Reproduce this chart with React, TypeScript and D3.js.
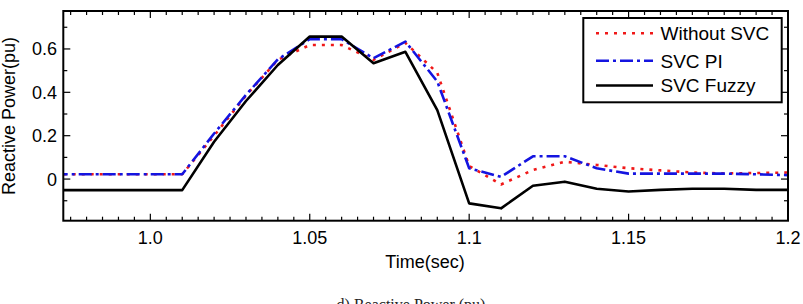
import React, {Component} from 'react';
import * as d3 from "d3"

// time axis (sec) and the three reactive power traces (pu)
const time = [0.97, 0.98, 0.99, 1.0, 1.01, 1.02, 1.03, 1.04, 1.05, 1.06, 1.07, 1.08, 1.09, 1.1, 1.11, 1.12, 1.13, 1.14, 1.15, 1.16, 1.17, 1.18, 1.19, 1.2]
const withoutSVC = [0.022, 0.022, 0.022, 0.022, 0.022, 0.2, 0.385, 0.55, 0.618, 0.618, 0.55, 0.628, 0.49, 0.06, -0.025, 0.042, 0.08, 0.065, 0.05, 0.04, 0.03, 0.026, 0.028, 0.03]
const svcPI = [0.022, 0.022, 0.022, 0.022, 0.022, 0.21, 0.388, 0.552, 0.645, 0.645, 0.557, 0.634, 0.45, 0.05, 0.01, 0.105, 0.105, 0.05, 0.025, 0.025, 0.025, 0.025, 0.022, 0.018]
const svcFuzzy = [-0.051, -0.051, -0.051, -0.051, -0.051, 0.172, 0.36, 0.526, 0.657, 0.657, 0.534, 0.587, 0.318, -0.112, -0.135, -0.031, -0.012, -0.045, -0.057, -0.05, -0.045, -0.045, -0.05, -0.05]

const xMajor = [1.0, 1.05, 1.1, 1.15, 1.2]
const xLabels = ["1.0", "1.05", "1.1", "1.15", "1.2"]
const yMajor = [0, 0.2, 0.4, 0.6]
const yLabels = ["0", "0.2", "0.4", "0.6"]
const yMinor = [-0.1, 0.1, 0.3, 0.5, 0.7]

const seriesNames = ["Without SVC", "SVC PI", "SVC Fuzzy"]

class App extends Component {
    renderChart(){
      const width = 803
      const height = 304
      const left = 63.3, right = 788, top = 11, bottom = 220.7
      const font = "'Liberation Sans', Arial, sans-serif"

      const x = d3.scaleLinear().domain([0.9727, 1.2]).range([left, right])
      const y = d3.scaleLinear().domain([-0.192, 0.775]).range([bottom, top])

      const svg = d3.select("#chart")
                      .append("svg")
                      .attr("width", width)
                      .attr("height", height)
                      .style("display", "block")

      svg.append("rect").attr("width", width).attr("height", height).attr("fill", "#fff")

      svg.append("clipPath").attr("id", "plotclip")
          .append("rect")
          .attr("x", left).attr("y", top)
          .attr("width", right - left).attr("height", bottom - top)

      const series = [
        {name: seriesNames[0], values: withoutSVC, color: "#f01818", dash: "3,6"},
        {name: seriesNames[1], values: svcPI, color: "#1414e0", dash: "13,4,3,4"},
        {name: seriesNames[2], values: svcFuzzy, color: "#000", dash: null},
      ]

      const line = d3.line<number>()
          .x((d, i) => x(time[i]))
          .y(d => y(d))

      const g = svg.append("g").attr("clip-path", "url(#plotclip)")
      series.forEach(s => {
        g.append("path")
          .attr("d", line(s.values))
          .attr("fill", "none")
          .attr("stroke", s.color)
          .attr("stroke-width", 2.6)
          .attr("stroke-linejoin", "round")
          .attr("stroke-dasharray", s.dash)
      })

      // ticks (inward, on all four sides)
      const xMinor = d3.range(0.975, 1.2, 0.005).filter(v => !xMajor.some(m => Math.abs(m - v) < 1e-6))
      const ticks = svg.append("g").attr("stroke", "#000").attr("stroke-width", 1.2)
      xMajor.forEach(v => {
        ticks.append("line").attr("x1", x(v)).attr("x2", x(v)).attr("y1", bottom).attr("y2", bottom - 7)
        ticks.append("line").attr("x1", x(v)).attr("x2", x(v)).attr("y1", top).attr("y2", top + 7)
      })
      xMinor.forEach(v => {
        ticks.append("line").attr("x1", x(v)).attr("x2", x(v)).attr("y1", bottom).attr("y2", bottom - 4)
        ticks.append("line").attr("x1", x(v)).attr("x2", x(v)).attr("y1", top).attr("y2", top + 4)
      })
      yMajor.forEach(v => {
        ticks.append("line").attr("x1", left).attr("x2", left + 7).attr("y1", y(v)).attr("y2", y(v))
        ticks.append("line").attr("x1", right).attr("x2", right - 7).attr("y1", y(v)).attr("y2", y(v))
      })
      yMinor.forEach(v => {
        ticks.append("line").attr("x1", left).attr("x2", left + 4).attr("y1", y(v)).attr("y2", y(v))
        ticks.append("line").attr("x1", right).attr("x2", right - 4).attr("y1", y(v)).attr("y2", y(v))
      })

      svg.append("rect")
          .attr("x", left).attr("y", top)
          .attr("width", right - left).attr("height", bottom - top)
          .attr("fill", "none").attr("stroke", "#000").attr("stroke-width", 2)

      // tick labels
      svg.append("g").selectAll("text")
          .data(xMajor)
          .join("text")
            .attr("x", d => x(d))
            .attr("y", 244)
            .attr("text-anchor", "middle")
            .attr("font-family", font)
            .attr("font-size", 18)
            .text((d, i) => xLabels[i])

      svg.append("g").selectAll("text")
          .data(yMajor)
          .join("text")
            .attr("x", 57)
            .attr("y", d => y(d))
            .attr("dy", "0.36em")
            .attr("text-anchor", "end")
            .attr("font-family", font)
            .attr("font-size", 18)
            .text((d, i) => yLabels[i])

      svg.append("text")
          .attr("x", 425).attr("y", 268)
          .attr("text-anchor", "middle")
          .attr("font-family", font)
          .attr("font-size", 18)
          .text("Time(sec)")

      svg.append("text")
          .attr("transform", "translate(15,116) rotate(-90)")
          .attr("text-anchor", "middle")
          .attr("font-family", font)
          .attr("font-size", 18)
          .text("Reactive Power(pu)")

      // legend
      const legend = svg.append("g")
      legend.append("rect")
          .attr("x", 583.3).attr("y", 18)
          .attr("width", 198.4).attr("height", 84.3)
          .attr("fill", "#fff").attr("stroke", "#000").attr("stroke-width", 2)
      const rowY = [33.3, 60.7, 85.5]
      series.forEach((s, i) => {
        legend.append("line")
          .attr("x1", 596).attr("x2", 653)
          .attr("y1", rowY[i]).attr("y2", rowY[i])
          .attr("stroke", s.color)
          .attr("stroke-width", 2.6)
          .attr("stroke-dasharray", s.dash)
        legend.append("text")
          .attr("x", 660.5).attr("y", rowY[i])
          .attr("dy", "0.36em")
          .attr("font-family", font)
          .attr("font-size", 19)
          .text(s.name)
      })

      // figure caption, cut by the bottom edge
      svg.append("text")
          .attr("x", 411).attr("y", 310)
          .attr("text-anchor", "middle")
          .attr("font-family", "'Liberation Serif', 'Times New Roman', serif")
          .attr("font-size", 16)
          .attr("fill", "#222")
          .text("d) Reactive Power (pu)")
    }

    componentDidMount(){
      if (!document.querySelector("#chart svg")) this.renderChart()
    }

    public render() : JSX.Element {
        return (
            <div
              id='chart'
              style={{position: "absolute", left: 0, top: 0, width: 803, height: 304, overflow: "hidden"}}
            >
            </div>
       )
    }
}
export default App;
